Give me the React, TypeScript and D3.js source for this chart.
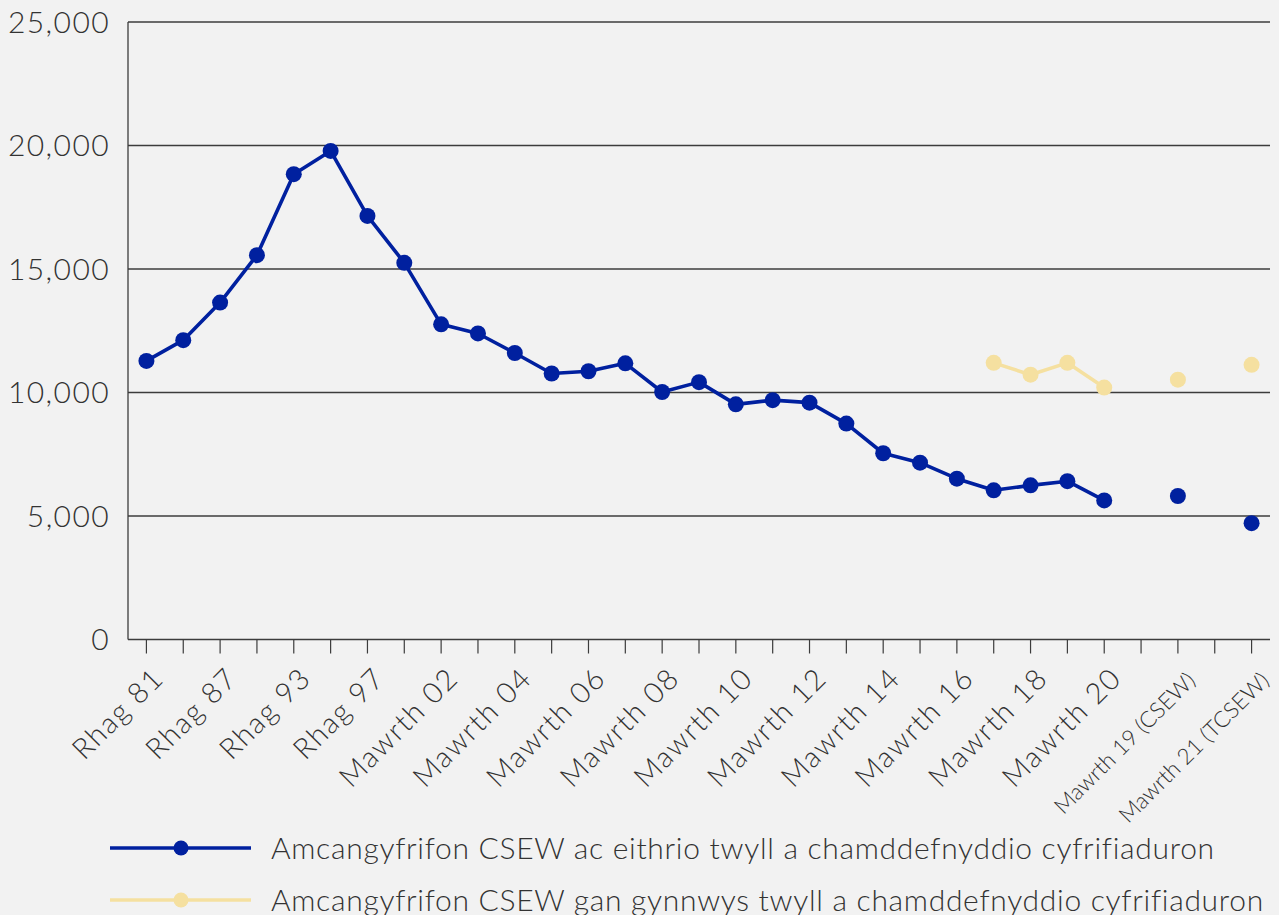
import React from "react";
import * as d3 from "d3";

const categories: string[] = [
  "Rhag 81", "Rhag 83", "Rhag 87", "Rhag 91", "Rhag 93", "Rhag 95", "Rhag 97", "Rhag 99",
  "Mawrth 02", "Mawrth 03", "Mawrth 04", "Mawrth 05", "Mawrth 06", "Mawrth 07", "Mawrth 08",
  "Mawrth 09", "Mawrth 10", "Mawrth 11", "Mawrth 12", "Mawrth 13", "Mawrth 14", "Mawrth 15",
  "Mawrth 16", "Mawrth 17", "Mawrth 18", "Mawrth 19", "Mawrth 20", "",
  "Mawrth 19 (CSEW)", "", "Mawrth 21 (TCSEW)",
];

const excludingFraud: (number | null)[] = [
  11280, 12120, 13640, 15560, 18840, 19780, 17150, 15250,
  12760, 12390, 11600, 10770, 10860, 11180, 10020,
  10420, 9520, 9690, 9590, 8740, 7540, 7160,
  6510, 6040, 6240, 6410, 5630, null,
  5810, null, 4710,
];

const includingFraud: (number | null)[] = [
  null, null, null, null, null, null, null, null,
  null, null, null, null, null, null, null,
  null, null, null, null, null, null, null,
  null, 11200, 10720, 11200, 10200, null,
  10520, null, 11120,
];

const yTicks: number[] = [0, 5000, 10000, 15000, 20000, 25000];

const legendLabels: string[] = [
  "Amcangyfrifon CSEW ac eithrio twyll a chamddefnyddio cyfrifiaduron",
  "Amcangyfrifon CSEW gan gynnwys twyll a chamddefnyddio cyfrifiaduron",
];

const BLUE = "#00209f";
const YELLOW = "#f5e0a0";
const GRID = "#3c3c3c";
const TEXT = "#333333";
const FONT = "Lato, 'Open Sans', sans-serif";

export default function App() {
  const W = 1279;
  const H = 915;
  const left = 128;
  const right = 1270;
  const top = 22;
  const bottom = 639.5;

  const x = d3
    .scaleBand<number>()
    .domain(d3.range(categories.length))
    .range([left, right])
    .padding(0);
  const cx = (i: number) => (x(i) as number) + x.bandwidth() / 2;
  const y = d3.scaleLinear().domain([0, 25000]).range([bottom, top]);

  const line = d3
    .line<number | null>()
    .defined((d) => d != null)
    .x((_, i) => cx(i))
    .y((d) => y(d as number));

  const fmt = d3.format(",");

  const series = [
    { values: excludingFraud, color: BLUE },
    { values: includingFraud, color: YELLOW },
  ];

  return (
    <svg
      width={W}
      height={H}
      style={{ position: "absolute", left: 0, top: 0, background: "#f2f2f2" }}
    >
      <rect x={0} y={0} width={W} height={H} fill="#f2f2f2" />
      {yTicks.map((t) => (
        <g key={t}>
          {t > 0 && (
            <line x1={left} x2={right} y1={y(t)} y2={y(t)} stroke={GRID} strokeWidth={1.3} />
          )}
          <text
            x={110}
            y={y(t)}
            dy="0.36em"
            textAnchor="end"
            fontFamily={FONT}
            fontWeight={300}
            fontSize={30}
            letterSpacing={1.4}
            fill={TEXT}
          >
            {fmt(t)}
          </text>
        </g>
      ))}
      <line x1={left} x2={left} y1={top} y2={bottom} stroke={GRID} strokeWidth={1.3} />
      <line x1={left} x2={right} y1={bottom} y2={bottom} stroke={GRID} strokeWidth={1.6} />
      {categories.map((_, i) => (
        <line key={i} x1={cx(i)} x2={cx(i)} y1={bottom} y2={bottom + 14} stroke={GRID} strokeWidth={1.2} />
      ))}
      {categories.map((c, i) => {
        if (i % 2 !== 0 || !c) return null;
        const small = i >= 28;
        const px = cx(i) + (small ? 19 : 19);
        const py = small ? 682 : 680;
        return (
          <text
            key={"l" + i}
            transform={`translate(${px},${py}) rotate(-45)`}
            textAnchor="end"
            fontFamily={FONT}
            fontWeight={300}
            fontSize={small ? 22.5 : 29}
            letterSpacing={small ? 0 : 1.6}
            fill={TEXT}
          >
            {c}
          </text>
        );
      })}
      {series.map((s, si) => (
        <g key={si}>
          <path d={line(s.values) || ""} fill="none" stroke={s.color} strokeWidth={3.6} strokeLinejoin="round" />
          {s.values.map((v, i) =>
            v == null ? null : <circle key={i} cx={cx(i)} cy={y(v)} r={8} fill={s.color} />
          )}
        </g>
      ))}
      {legendLabels.map((lab, i) => {
        const ly = 848 + i * 52;
        const col = i === 0 ? BLUE : YELLOW;
        return (
          <g key={"lg" + i}>
            <line x1={110} x2={251} y1={ly} y2={ly} stroke={col} strokeWidth={3.6} />
            <circle cx={181} cy={ly} r={7.5} fill={col} />
            <text
              x={271}
              y={ly}
              dy="0.36em"
              fontFamily={FONT}
              fontWeight={300}
              fontSize={30}
              letterSpacing={0.7}
              fill={TEXT}
            >
              {lab}
            </text>
          </g>
        );
      })}
    </svg>
  );
}
